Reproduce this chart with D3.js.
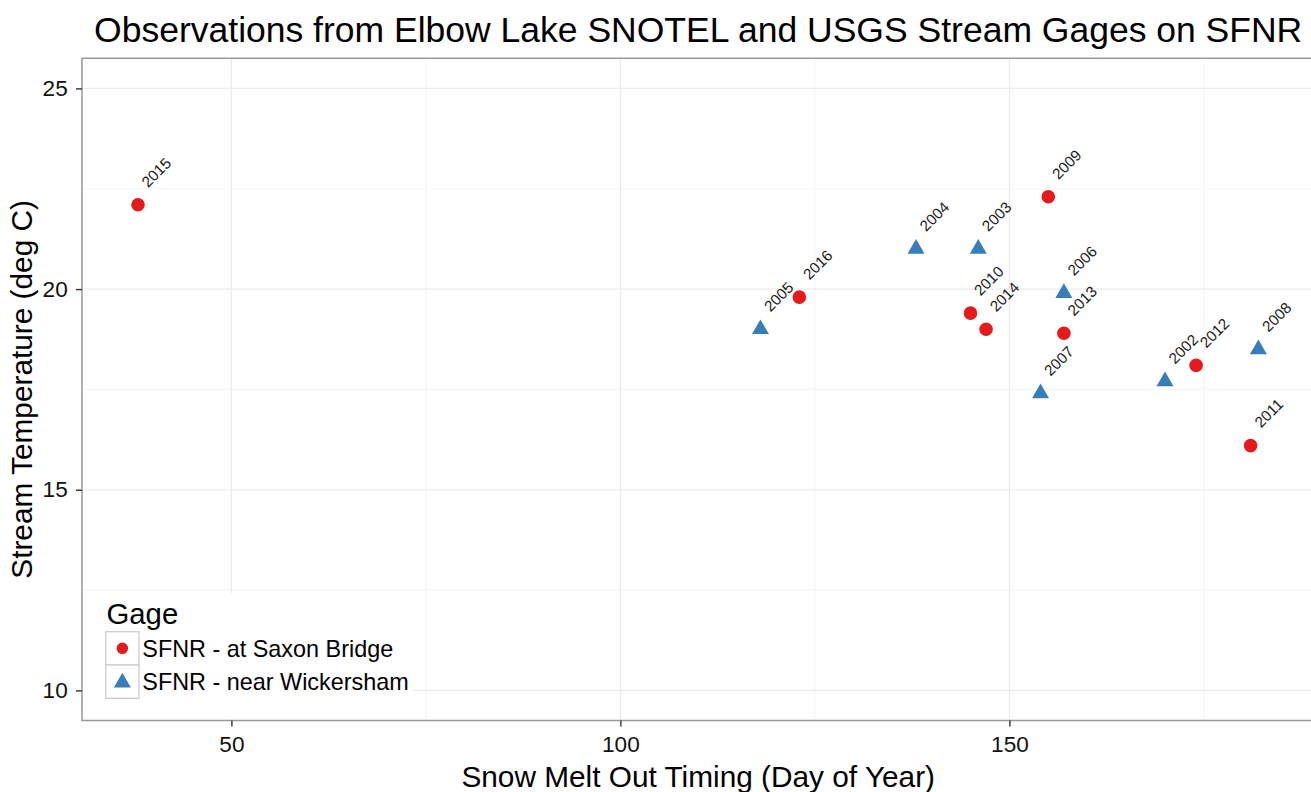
<!DOCTYPE html>
<html>
<head>
<meta charset="utf-8">
<script src="https://cdn.jsdelivr.net/npm/d3@7"></script>
<style>
  html, body { margin: 0; padding: 0; background: #fff; }
  svg { display: block; font-family: "Liberation Sans", Arial, Helvetica, sans-serif; }
</style>
</head>
<body>
<svg id="chart" width="1311" height="792"></svg>
<script>
// Peak stream temperature vs. snow melt-out day, by gage
const years      = [2015, 2016, 2009, 2010, 2014, 2013, 2012, 2011,
                    2005, 2004, 2003, 2006, 2007, 2002, 2008];
const gages      = ["SFNR - at Saxon Bridge", "SFNR - at Saxon Bridge", "SFNR - at Saxon Bridge",
                    "SFNR - at Saxon Bridge", "SFNR - at Saxon Bridge", "SFNR - at Saxon Bridge",
                    "SFNR - at Saxon Bridge", "SFNR - at Saxon Bridge",
                    "SFNR - near Wickersham", "SFNR - near Wickersham", "SFNR - near Wickersham",
                    "SFNR - near Wickersham", "SFNR - near Wickersham", "SFNR - near Wickersham",
                    "SFNR - near Wickersham"];
const meltDay    = [38, 123, 155, 145, 147, 157, 174, 181,
                    118, 138, 146, 157, 154, 170, 182];
const streamTemp = [22.1, 19.8, 22.3, 19.4, 19.0, 18.9, 18.1, 16.1,
                    19.0, 21.0, 21.0, 19.9, 17.4, 17.7, 18.5];

const gageLevels = ["SFNR - at Saxon Bridge", "SFNR - near Wickersham"];
const gageColors = ["#E41A1C", "#377EB8"];

const xTicks      = [50, 100, 150];
const xMinorTicks = [75, 125, 175];
const yTicks      = [10, 15, 20, 25];
const yMinorTicks = [12.5, 17.5, 22.5];
const yLimits     = [10, 25];

const titleText  = "Observations from Elbow Lake SNOTEL and USGS Stream Gages on SFNR";
const xTitleText = "Snow Melt Out Timing (Day of Year)";
const yTitleText = "Stream Temperature (deg C)";
const legendTitle = "Gage";

// ---- layout ----
const panel = { left: 82, top: 58.3, bottom: 720.5, right: 1314.4 };
const fontFamily = '"Liberation Sans", Arial, Helvetica, sans-serif';

// ggplot-style 5% expansion of the limits
function expand(lo, hi) { const p = (hi - lo) * 0.05; return [lo - p, hi + p]; }

const xDomain = expand(d3.min(meltDay), d3.max(meltDay));
const yDomain = expand(yLimits[0], yLimits[1]);

const x = d3.scaleLinear().domain(xDomain).range([panel.left, panel.right]);
const y = d3.scaleLinear().domain(yDomain).range([panel.bottom, panel.top]);
const color = d3.scaleOrdinal().domain(gageLevels).range(gageColors);
const shape = d3.scaleOrdinal().domain(gageLevels).range(["circle", "triangle"]);

const svg = d3.select("#chart");

const data = years.map((yr, i) => ({
  year: yr, gage: gages[i], day: meltDay[i], temp: streamTemp[i]
}));

// ---- panel background & grid ----
svg.append("rect")
  .attr("x", panel.left).attr("y", panel.top)
  .attr("width", panel.right - panel.left).attr("height", panel.bottom - panel.top)
  .attr("fill", "#fff");

const grid = svg.append("g");
grid.selectAll("line.xminor").data(xMinorTicks).join("line")
  .attr("x1", d => x(d)).attr("x2", d => x(d))
  .attr("y1", panel.top).attr("y2", panel.bottom)
  .attr("stroke", "#f6f6f6").attr("stroke-width", 1.2);
grid.selectAll("line.yminor").data(yMinorTicks).join("line")
  .attr("x1", panel.left).attr("x2", panel.right)
  .attr("y1", d => y(d)).attr("y2", d => y(d))
  .attr("stroke", "#f6f6f6").attr("stroke-width", 1.2);
grid.selectAll("line.xmajor").data(xTicks).join("line")
  .attr("x1", d => x(d)).attr("x2", d => x(d))
  .attr("y1", panel.top).attr("y2", panel.bottom)
  .attr("stroke", "#ebebeb").attr("stroke-width", 1.2);
grid.selectAll("line.ymajor").data(yTicks).join("line")
  .attr("x1", panel.left).attr("x2", panel.right)
  .attr("y1", d => y(d)).attr("y2", d => y(d))
  .attr("stroke", "#ebebeb").attr("stroke-width", 1.2);

// ---- points ----
const symbolSize = { circle: Math.PI * 6.8 * 6.8, triangle: 125 };
function symbolPath(g, scale) {
  const s = shape(g);
  const type = s === "circle" ? d3.symbolCircle : d3.symbolTriangle;
  return d3.symbol().type(type).size(symbolSize[s] * (scale || 1))();
}

svg.append("g").selectAll("path").data(data).join("path")
  .attr("transform", d => `translate(${x(d.day)},${y(d.temp)})`)
  .attr("d", d => symbolPath(d.gage))
  .attr("fill", d => color(d.gage));

// ---- year labels (nudged up-right, rotated 45°) ----
const nudgeX = 2.34, nudgeY = 0.81;
svg.append("g").selectAll("text").data(data).join("text")
  .attr("transform", d => `translate(${x(d.day + nudgeX)},${y(d.temp + nudgeY)}) rotate(-45)`)
  .attr("text-anchor", "middle")
  .attr("dy", "0.36em")
  .attr("font-size", 15.3)
  .attr("fill", "#1a1a1a")
  .text(d => d.year);

// ---- legend ----
const lg = svg.append("g");
lg.append("rect")
  .attr("x", 83).attr("y", 593).attr("width", 330).attr("height", 126.5)
  .attr("fill", "#fff");
lg.append("text")
  .attr("x", 106.5).attr("y", 624)
  .attr("font-size", 29.3).attr("fill", "#000")
  .text(legendTitle);
const keyX = 105.7, keyY0 = 631.7, keySize = 33.3;
gageLevels.forEach((g, i) => {
  const ky = keyY0 + i * keySize;
  lg.append("rect")
    .attr("x", keyX).attr("y", ky).attr("width", keySize).attr("height", keySize)
    .attr("fill", "#fff").attr("stroke", "#cccccc").attr("stroke-width", 1.3);
  lg.append("path")
    .attr("transform", `translate(${keyX + keySize / 2},${ky + keySize / 2 + (i === 1 ? 1 : 0)})`)
    .attr("d", symbolPath(g, i === 0 ? 0.72 : 1))
    .attr("fill", color(g));
  lg.append("text")
    .attr("x", 142.3).attr("y", ky + keySize / 2 + 8.3)
    .attr("font-size", 23.4).attr("fill", "#000")
    .text(g);
});

// ---- panel border ----
svg.append("rect")
  .attr("x", panel.left).attr("y", panel.top)
  .attr("width", panel.right - panel.left).attr("height", panel.bottom - panel.top)
  .attr("fill", "none").attr("stroke", "#999").attr("stroke-width", 1.5);

// ---- axes ----
const xAxis = svg.append("g")
  .attr("transform", `translate(0,${panel.bottom})`)
  .call(d3.axisBottom(x).tickValues(xTicks).tickSize(6).tickPadding(9.5).tickFormat(d3.format("d")));
const yAxis = svg.append("g")
  .attr("transform", `translate(${panel.left},0)`)
  .call(d3.axisLeft(y).tickValues(yTicks).tickSize(6).tickPadding(8.3).tickFormat(d3.format("d")));
[xAxis, yAxis].forEach(a => {
  a.select(".domain").remove();
  a.selectAll(".tick line").attr("stroke", "#333").attr("stroke-width", 1.4);
  a.selectAll(".tick text")
    .attr("font-family", fontFamily).attr("font-size", 22.6).attr("fill", "#111");
});

// ---- titles ----
const centerX = (panel.left + panel.right) / 2;
svg.append("text")
  .attr("x", centerX).attr("y", 41.7)
  .attr("text-anchor", "middle")
  .attr("font-size", 35.5).attr("fill", "#000")
  .text(titleText);
svg.append("text")
  .attr("x", centerX).attr("y", 786.7)
  .attr("text-anchor", "middle")
  .attr("font-size", 29.8).attr("fill", "#000")
  .text(xTitleText);
svg.append("text")
  .attr("transform", `translate(31.7,${(panel.top + panel.bottom) / 2}) rotate(-90)`)
  .attr("text-anchor", "middle")
  .attr("font-size", 29.8).attr("fill", "#000")
  .text(yTitleText);
</script>
</body>
</html>
